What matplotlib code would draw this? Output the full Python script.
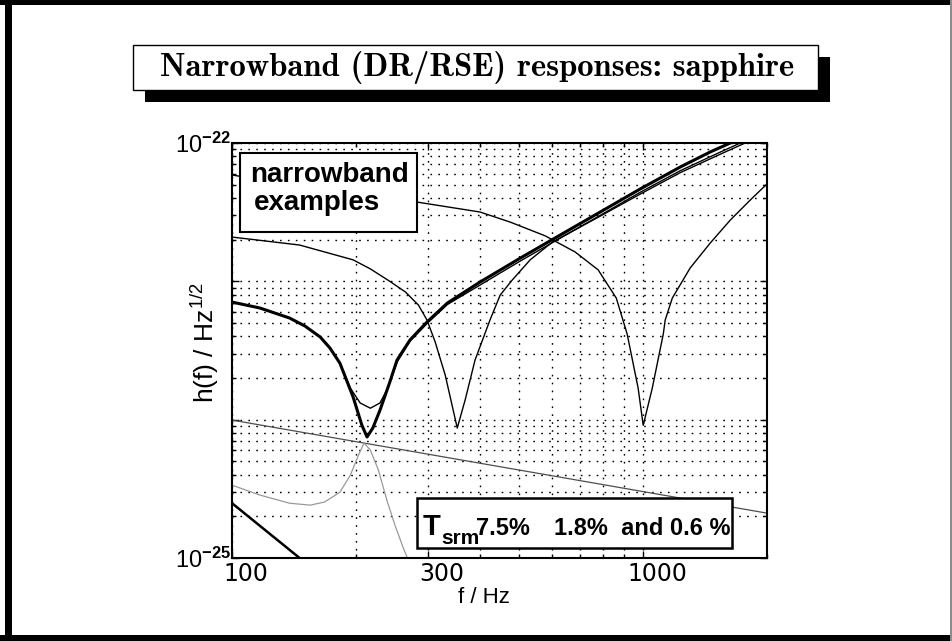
"""
Narrowband (DR/RSE) responses, sapphire test masses -- redrawn slide.
Three signal-recycling mirror transmissions tuned to different frequencies,
plus the broadband noise pieces underneath.  Saves out.png.
"""
import matplotlib
matplotlib.use("Agg")
import matplotlib.pyplot as plt
import matplotlib.transforms as mtransforms
from matplotlib.patches import Rectangle
from matplotlib.ticker import LogLocator, NullFormatter

W, H = 953, 641

# T_srm 7.5% -- dip near 213 Hz (thick)
deep_f = [100, 117, 138, 150.5, 164, 173, 183, 197, 207, 213, 220, 229, 242,
          252, 271, 298, 334, 401, 502, 628, 786, 983, 1230, 1455, 1628]
deep_h = [7.08e-24, 6.41e-24, 5.43e-24, 4.75e-24, 3.95e-24, 3.30e-24,
          2.56e-24, 1.46e-24, 9.1e-25, 7.5e-25, 8.7e-25, 1.17e-24, 1.87e-24,
          2.70e-24, 3.77e-24, 5.08e-24, 6.97e-24, 9.88e-24, 1.47e-23,
          2.16e-23, 3.17e-23, 4.65e-23, 6.70e-23, 8.61e-23, 1.0e-22]

# companion of the thick curve with the shallow bottom
shallow_f = [100, 117, 138, 150.5, 164, 173, 183, 194, 205, 217, 229, 238,
             252, 271, 298, 334, 401, 502, 628, 786, 983, 1230, 1540, 1722]
shallow_h = [7.08e-24, 6.41e-24, 5.43e-24, 4.75e-24, 3.95e-24, 3.30e-24,
             2.56e-24, 1.69e-24, 1.32e-24, 1.21e-24, 1.32e-24, 1.64e-24,
             2.61e-24, 3.70e-24, 4.95e-24, 6.80e-24, 9.40e-24, 1.40e-23,
             2.05e-23, 3.00e-23, 4.40e-23, 6.30e-23, 8.60e-23, 1.0e-22]

# T_srm 1.8% -- dip near 353 Hz
mid_f = [100, 146, 197, 217, 242, 264, 284, 298, 312, 330, 353, 369, 390,
         424, 449, 480, 531, 601, 786, 983, 1230, 1540, 1770]
mid_h = [2.09e-23, 1.83e-23, 1.43e-23, 1.23e-23, 1.00e-23, 8.38e-24,
         6.74e-24, 5.25e-24, 3.64e-24, 2.10e-24, 8.7e-25, 1.39e-24,
         2.70e-24, 5.25e-24, 7.96e-24, 1.02e-23, 1.43e-23, 1.92e-23,
         2.96e-23, 4.27e-23, 6.10e-23, 8.30e-23, 1.0e-22]

# T_srm 0.6% -- dip near 1 kHz
high_f = [100, 146, 282, 401, 475, 578, 683, 777, 860, 914, 972, 1000, 1052,
          1119, 1131, 1177, 1301, 1455, 1628, 1821, 2000]
high_h = [5.87e-23, 4.89e-23, 3.74e-23, 3.17e-23, 2.68e-23, 2.13e-23,
          1.63e-23, 1.21e-23, 7.57e-24, 4.16e-24, 1.69e-24, 9.1e-25,
          1.69e-24, 4.16e-24, 5.25e-24, 7.57e-24, 1.25e-23, 1.89e-23,
          2.77e-23, 3.87e-23, 5.06e-23]

# straight thermal-noise line
thermal_f = [100, 2000]
thermal_h = [9.93e-25, 2.11e-25]

# grey resonant piece
grey_f = [100, 117, 138, 155, 168, 183, 194, 203, 209.5, 217, 227, 238,
          249, 261, 267, 274]
grey_h = [3.36e-25, 2.85e-25, 2.49e-25, 2.41e-25, 2.54e-25, 2.99e-25,
          3.97e-25, 5.54e-25, 6.77e-25, 6.03e-25, 4.32e-25, 2.62e-25,
          1.73e-25, 1.18e-25, 1.0e-25, 7.5e-26]

# steep low-frequency piece, bottom left
seis_f = [100, 146, 155]
seis_h = [2.49e-25, 1.0e-25, 8.2e-26]

x_ticks = [100, 300, 1000]
x_labels = ["100", "300", "1000"]
y_ticks = [1e-25, 1e-24, 1e-23, 1e-22]
y_labels = [r"$10^{\mathbf{-25}}$", "", "", r"$10^{\mathbf{-22}}$"]

plt.rcParams["font.family"] = ["Liberation Sans", "DejaVu Sans"]
plt.rcParams["mathtext.fontset"] = "custom"
plt.rcParams["mathtext.rm"] = "Liberation Sans"
plt.rcParams["mathtext.bf"] = "Liberation Sans:bold"
plt.rcParams["mathtext.it"] = "Liberation Sans:italic"


def fig_rect(fig, x0, y0, x1, y1, **kw):
    # pixel box, origin top-left
    r = Rectangle((x0 / W, 1 - y1 / H), (x1 - x0) / W, (y1 - y0) / H,
                  transform=fig.transFigure, **kw)
    fig.add_artist(r)
    return r


fig = plt.figure(figsize=(W / 100, H / 100), dpi=100)

# slide frame
fig_rect(fig, 5, 0, 12, 641, fc="k", ec="none")
fig_rect(fig, 0, 0, 953, 5, fc="k", ec="none")
fig_rect(fig, 0, 635, 953, 641, fc="k", ec="none")
fig_rect(fig, 950, 0, 952, 641, fc="0.55", ec="none")

# title box with drop shadow
fig_rect(fig, 145, 57, 830, 102, fc="k", ec="none")
fig_rect(fig, 133, 45, 818, 90, fc="w", ec="k", lw=1.0)
fig.text(477 / W, 1 - 68 / H, "Narrowband (DR/RSE) responses: sapphire",
         ha="center", va="center", fontsize=23.5, family="cmb10")

ax = fig.add_axes([232 / W, 1 - 558 / H, (767 - 232) / W, (558 - 143) / H])
ax.set_xscale("log")
ax.set_yscale("log")

ax.plot(thermal_f, thermal_h, color="0.3", lw=0.9)
ax.plot(grey_f, grey_h, color="0.6", lw=0.9)
ax.plot(seis_f, seis_h, color="k", lw=1.8)
ax.plot(high_f, high_h, color="k", lw=1.0)
ax.plot(mid_f, mid_h, color="k", lw=1.0)
ax.plot(shallow_f, shallow_h, color="k", lw=1.0)
ax.plot(deep_f, deep_h, color="k", lw=2.2)

ax.set_xlim(100, 2000)
ax.set_ylim(1e-25, 1e-22)

ax.set_xticks(x_ticks, x_labels)
ax.set_yticks(y_ticks, y_labels)
ax.xaxis.set_minor_locator(LogLocator(base=10, subs=range(2, 10)))
ax.yaxis.set_minor_locator(LogLocator(base=10, subs=range(2, 10)))
ax.xaxis.set_minor_formatter(NullFormatter())
ax.yaxis.set_minor_formatter(NullFormatter())
ax.tick_params(which="both", direction="in", top=True, right=True, width=1)
ax.tick_params(which="major", length=5)
ax.tick_params(which="minor", length=3)
ax.tick_params(axis="x", pad=3, labelsize=17)
ax.tick_params(axis="y", pad=1, labelsize=17)
shift = mtransforms.ScaledTranslation(0.14, 0, fig.dpi_scale_trans)
for lab in ax.get_xticklabels():
    lab.set_family("DejaVu Sans")
    lab.set_transform(lab.get_transform() + shift)

ax.grid(True, which="both", color="k", lw=1.0, ls=(0, (1.2, 4.5)))
for s in ax.spines.values():
    s.set_linewidth(1.5)

ax.set_xlabel("f / Hz", fontsize=16)
ax.xaxis.set_label_coords(0.47, -0.07)
ax.xaxis.label.set_va("top")
ax.set_ylabel(r"h(f) / Hz$^{1/2}$", fontsize=19)
ax.yaxis.set_label_coords(-0.02, 0.52)

# "narrowband examples" box
ax.add_patch(Rectangle((0.015, 0.7855), 0.331, 0.19, transform=ax.transAxes,
                       fc="w", ec="k", lw=1.5, zorder=5))
ax.text(0.034, 0.906, "narrowband", transform=ax.transAxes, fontsize=20,
        weight="bold", va="baseline", zorder=6)
ax.text(0.040, 0.8386, "examples", transform=ax.transAxes, fontsize=20,
        weight="bold", va="baseline", zorder=6)

# T_srm box
ax.add_patch(Rectangle((0.346, 0.024), 0.589, 0.12, transform=ax.transAxes,
                       fc="w", ec="k", lw=1.8, zorder=5))
ax.text(0.357, 0.055, "T", transform=ax.transAxes, fontsize=21,
        weight="bold", va="baseline", zorder=6)
ax.text(0.392, 0.034, "srm", transform=ax.transAxes, fontsize=15,
        weight="bold", va="baseline", zorder=6)
ax.text(0.456, 0.055, "7.5%", transform=ax.transAxes, fontsize=17,
        weight="bold", va="baseline", zorder=6)
ax.text(0.602, 0.055, "1.8%  and 0.6 %", transform=ax.transAxes, fontsize=17,
        weight="bold", va="baseline", zorder=6)

fig.savefig("out.png", dpi=100)
